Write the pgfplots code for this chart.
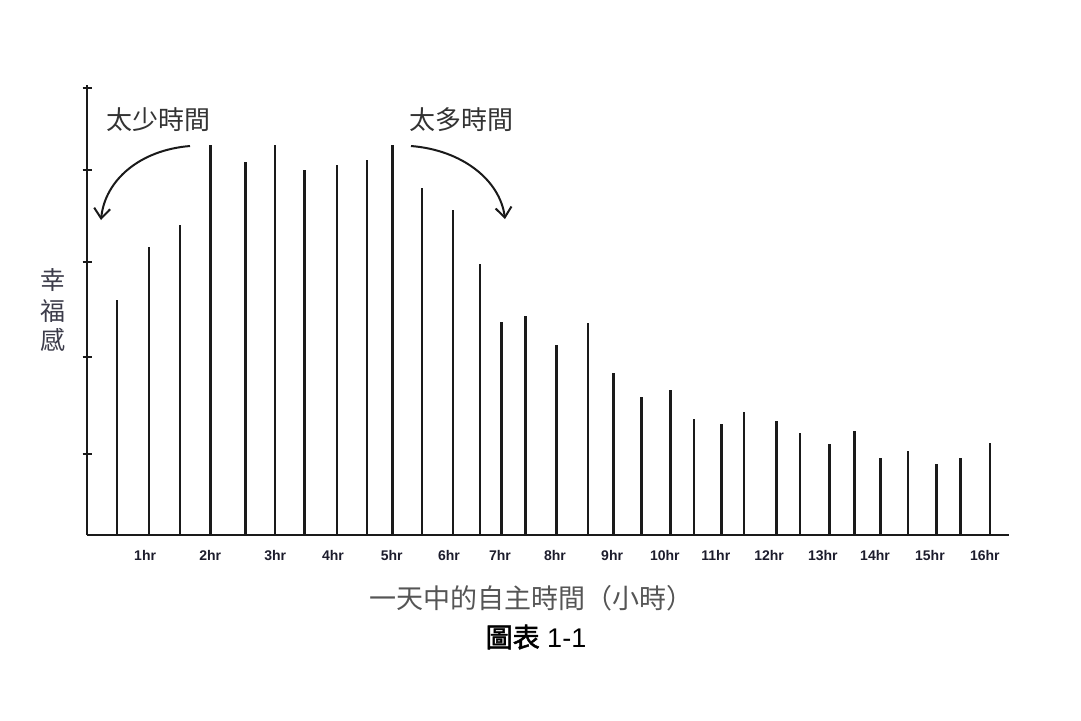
\documentclass[border=0pt]{standalone}
\usepackage{fontspec}
\setmainfont{Liberation Sans}
\newfontfamily\cjk{Noto Sans CJK TC}
\newfontfamily\cjkb{Noto Sans CJK TC}[FakeBold=2]
\usepackage{pgfplots}
\usepackage{pgfplotstable}
\pgfplotsset{compat=1.18}
\usetikzlibrary{arrows.meta}

\definecolor{ink}{HTML}{1A1A1A}
\definecolor{labgray}{HTML}{555555}
\definecolor{ylab}{HTML}{3C3C4A}
\definecolor{tickblue}{HTML}{1C1C2C}

% half-hour sticks: position in hours, happiness (arbitrary units)
\pgfplotstableread{
h     v
0.43  2.35
1.00  2.88
1.55  3.10
2.10  3.90
2.72  3.73
3.25  3.90
3.77  3.65
4.35  3.70
4.89  3.75
5.34  3.90
5.87  3.47
6.42  3.25
6.90  2.71
7.29  2.13
7.72  2.19
8.27  1.90
8.83  2.12
9.28  1.62
9.78  1.38
10.30 1.45
10.72 1.16
11.21 1.11
11.61 1.23
12.19 1.14
12.61 1.02
13.14 0.91
13.58 1.04
14.05 0.77
14.54 0.84
15.05 0.71
15.48 0.77
16.00 0.92
}\happy

\begin{document}
\begin{tikzpicture}
\begin{scope}[x=0.5pt,y=-0.5pt]
  \path[use as bounding box] (0,0) rectangle (1081,720);
\end{scope}
\begin{axis}[
  at={(43.5pt,-267.5pt)}, anchor=south west,
  scale only axis, width=461pt, height=225pt,
  xmin=-0.107, xmax=16.34, ymin=0, ymax=4.495,
  axis lines*=left,
  axis line style={line width=1.4pt,-,ink},
  xtick={0.93,2.09,3.25,4.28,5.33,6.35,7.26,8.24,9.26,10.20,11.11,12.06,13.02,13.95,14.93,15.91},
  xticklabels={1hr,2hr,3hr,4hr,5hr,6hr,7hr,8hr,9hr,10hr,11hr,12hr,13hr,14hr,15hr,16hr},
  x tick label style={font=\bfseries\fontsize{7}{8}\selectfont, text=tickblue, yshift=-2pt},
  x tick style={draw=none},
  ytick={0.81,1.78,2.73,3.65,4.47},
  yticklabels={},
  y tick style={line width=1pt, ink},
  tick align=center, major tick length=4.5pt,
  clip=false,
]
\addplot[ycomb, ink, line width=1.3pt] table[x=h,y=v]{\happy};
\end{axis}
\begin{scope}[x=0.5pt,y=-0.5pt]
  \node[text=black!80, font=\cjk\fontsize{13}{15}\selectfont] at (158,120) {太少時間};
  \node[text=black!80, font=\cjk\fontsize{13}{15}\selectfont] at (461,120) {太多時間};
  \draw[ink, line width=1pt, -{Straight Barb[length=5pt,width=8pt]}]
    (190,146) .. controls (140,150) and (105,180) .. (101,220);
  \draw[ink, line width=1pt, -{Straight Barb[length=5pt,width=8pt]}]
    (411,146) .. controls (462,150) and (500,180) .. (505,219);
  \foreach \c/\yy in {幸/280,福/311,感/340}
    \node[text=ylab, font=\cjk\fontsize{12.5}{14}\selectfont] at (53,\yy) {\c};
  \node[text=labgray, font=\cjk\fontsize{13.5}{16}\selectfont] at (531,598) {一天中的自主時間（小時）};
  \node[text=black, font=\fontsize{13.5}{16}\selectfont] at (536,637) {{\cjkb 圖表} 1-1};
\end{scope}
\end{tikzpicture}
\end{document}
